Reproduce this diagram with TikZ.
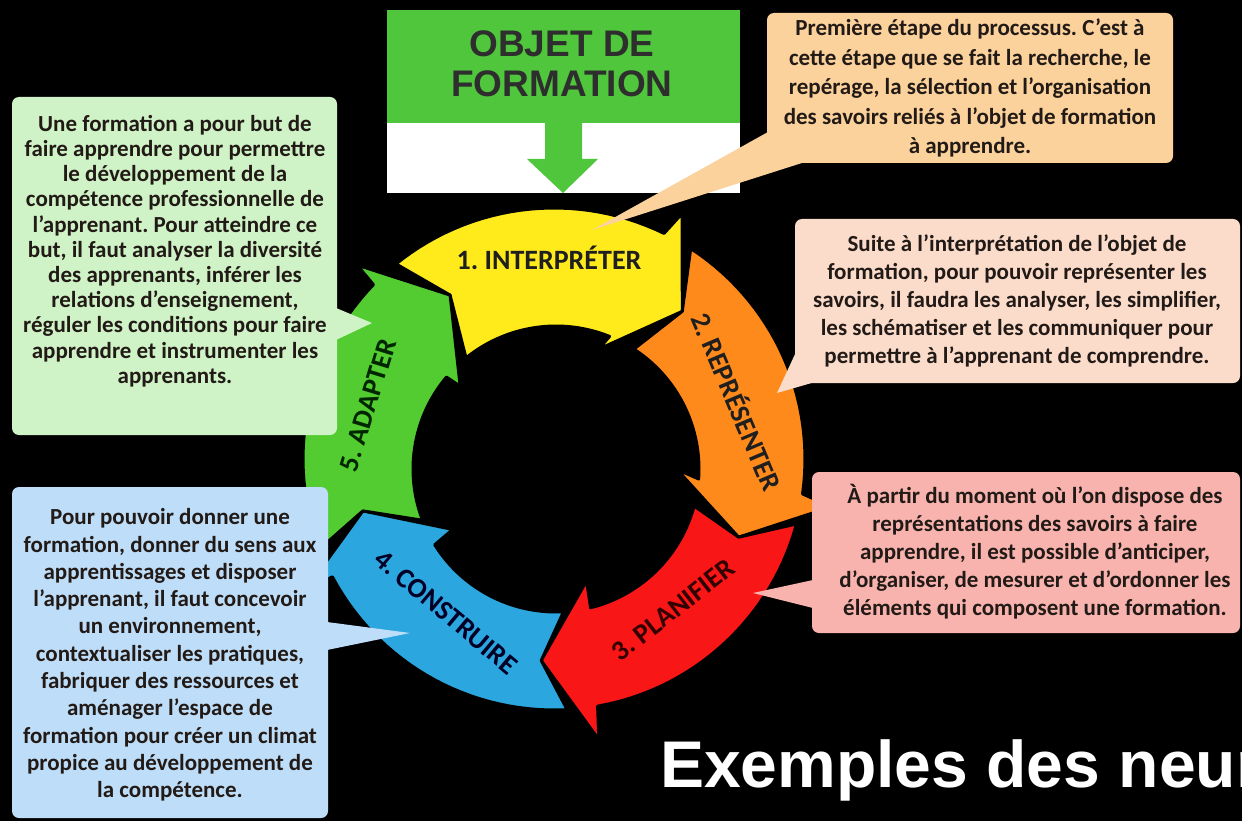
\documentclass[tikz,border=0pt]{standalone}
\usepackage{fontspec}
\setmainfont{Carlito}
\newfontfamily\arialfont{Liberation Sans}
\usetikzlibrary{calc}
\frenchspacing
\definecolor{cyellow}{HTML}{FFEB1C}
\definecolor{corange}{HTML}{FF8A1C}
\definecolor{cred}{HTML}{F91616}
\definecolor{cblue}{HTML}{2BA6DF}
\definecolor{cgreen}{HTML}{52CC30}
\definecolor{objgreen}{HTML}{4FC63B}
\definecolor{bxorange}{HTML}{FBD29C}
\definecolor{bxgreen}{HTML}{CFF3C6}
\definecolor{bxpeach}{HTML}{FBDCCB}
\definecolor{bxpink}{HTML}{F8B3AE}
\definecolor{bxblue}{HTML}{BEDDF8}
\definecolor{txtdark}{HTML}{221A16}
\newcommand{\ringarrow}[3]{%
 \pgfmathsetmacro{\ta}{#2+7}%
 \pgfmathsetmacro{\hbo}{#3+14}%
 \pgfmathsetmacro{\hbi}{#3+18}%
 \pgfmathsetmacro{\bo}{#3+13}%
 \pgfmathsetmacro{\bi}{#3+19}%
 \filldraw[fill=#1, draw=black, line width=3, line join=round]
  plot[domain=\ta:\hbo, samples=30, variable=\t] ({554+251*cos(\t)},{459-251*sin(\t)})
  -- ({555+280*cos(\bo)},{463-280*sin(\bo)})
  -- ({555+198*cos(#3)},{463-198*sin(#3)})
  -- ({555+122*cos(\bi)},{463-122*sin(\bi)})
  -- plot[domain=\hbi:\ta, samples=30, variable=\t] ({556+143*cos(\t)},{469-143*sin(\t)})
  -- ({555+198*cos(#2)},{463-198*sin(#2)}) -- cycle;
}
\tikzset{
 steplabel/.style={font=\bfseries\fontsize{28}{30}\selectfont, inner sep=0},
 calltext/.style={font=\bfseries\fontsize{23}{#1}\selectfont, align=center, inner sep=0, text=txtdark},
 objtext/.style={font=\arialfont\bfseries\fontsize{37}{40}\selectfont, text=black!82, inner sep=0, anchor=base}
}
\begin{document}
\begin{tikzpicture}[x=1pt,y=-1pt]
\useasboundingbox (0,0) rectangle (1242,821);
\fill[black] (0,0) rectangle (1242,821);

% ring of arrows
\ringarrow{cyellow}{122}{50}
\ringarrow{corange}{50}{-22}
\ringarrow{cred}{-22}{-94}
\ringarrow{cblue}{-94}{-166}
\ringarrow{cgreen}{-166}{-238}

\node[steplabel, text=black!88] (s1) at (549,258) {1. INTERPRÉTER};
\node[steplabel, text=black!88, rotate=-67] (s2) at (738,401) {2. REPRÉSENTER};
\node[steplabel, text=black!80!red, rotate=38] (s3) at (673,610) {3. PLANIFIER};
\node[steplabel, text=black!85!blue, rotate=-40] (s4) at (446,612) {4. CONSTRUIRE};
\node[steplabel, text=black!85!green, rotate=73] (s5) at (368,405) {5. ADAPTER};

% objet de formation
\fill[objgreen] (387,10) rectangle (740,123);
\fill[white] (387,123) rectangle (740,193);
\fill[objgreen] (545,122) -- (582,122) -- (582,159) -- (598,159) -- (563,193) -- (527,159) -- (545,159) -- cycle;
\node[objtext] (obj1) at (562,57) {OBJET DE};
\node[objtext] (obj2) at (562,97) {FORMATION};

% callout 1 (orange)
\fill[bxorange, rounded corners=7] (767,13) rectangle (1173,163);
\fill[bxorange] (768,132) -- (592,230) -- (805,162) -- cycle;
\node[calltext=29.5] (c1) at (970,88) {Première étape du processus. C’est à\\cette étape que se fait la recherche, le\\repérage, la sélection et l’organisation\\des savoirs reliés à l’objet de formation\\à apprendre.};

% callout 2 (peach)
\fill[bxpeach, rounded corners=7] (795,219) rectangle (1240,383);
\fill[bxpeach] (796,352) -- (777,393) -- (815,382) -- cycle;
\node[calltext=28] (c2) at (1017,301) {Suite à l’interprétation de l’objet de\\formation, pour pouvoir représenter les\\savoirs, il faudra les analyser, les simplifier,\\les schématiser et les communiquer pour\\permettre à l’apprenant de comprendre.};

% callout 3 (pink)
\fill[bxpink, rounded corners=7] (812,472) rectangle (1240,633);
\fill[bxpink] (813,580) -- (753,593) -- (813,608) -- cycle;
\node[calltext=28] (c3) at (1035,552) {À partir du moment où l’on dispose des\\représentations des savoirs à faire\\apprendre, il est possible d’anticiper,\\d’organiser, de mesurer et d’ordonner les\\éléments qui composent une formation.};

% callout 4 (blue)
\fill[bxblue, rounded corners=7] (12,487) rectangle (328,818);
\fill[bxblue] (327,622) -- (410,633) -- (327,650) -- cycle;
\node[calltext=27.3] (c4) at (170,655) {Pour pouvoir donner une\\formation, donner du sens aux\\apprentissages et disposer\\l’apprenant, il faut concevoir\\un environnement,\\contextualiser les pratiques,\\fabriquer des ressources et\\aménager l’espace de\\formation pour créer un climat\\propice au développement de\\la compétence.};

% callout 5 (green)
\fill[bxgreen, rounded corners=7] (12,97) rectangle (337,435);
\fill[bxgreen] (336,308) -- (372,323) -- (336,340) -- cycle;
\node[calltext=25.2] (c5) at (175,251) {Une formation a pour but de\\faire apprendre pour permettre\\le développement de la\\compétence professionnelle de\\l’apprenant. Pour atteindre ce\\but, il faut analyser la diversité\\des apprenants, inférer les\\relations d’enseignement,\\réguler les conditions pour faire\\apprendre et instrumenter les\\apprenants.};

% title
\node[font=\arialfont\bfseries\fontsize{66}{70}\selectfont, text=white, anchor=base west, inner sep=0] (title) at (660,787) {Exemples des neur};
\end{tikzpicture}
\end{document}
